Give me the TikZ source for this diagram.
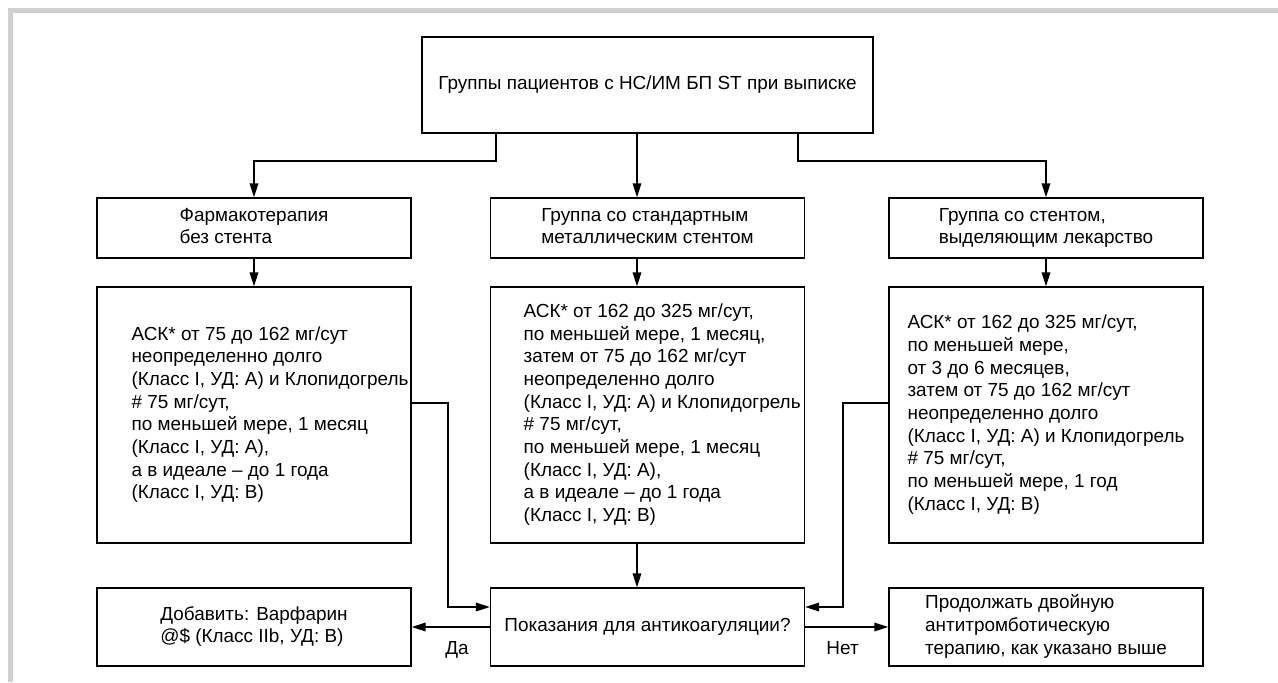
\documentclass[tikz,border=0pt]{standalone}
\usepackage{fontspec}
\setmainfont{Liberation Sans}
\usetikzlibrary{arrows.meta}
\newcommand{\txtblk}[1]{\begin{tabular}{@{}l@{}}#1\end{tabular}}
\definecolor{framegray}{RGB}{208,208,208}
\tikzset{
  box/.style={draw=black, line width=1.1pt, rectangle, inner sep=0pt, align=left,
              font=\fontsize{14.2}{17}\selectfont},
  colbox/.style={box, minimum width=235.5pt},
  conn/.style={line width=1.1pt, -{Triangle[length=10.5pt,width=6.5pt]}},
  lbl/.style={font=\fontsize{14.2}{17}\selectfont, inner sep=1pt},
}
\begin{document}
\begin{tikzpicture}[x=0.75pt, y=-0.75pt]
  \useasboundingbox (0,0) rectangle (1278,682);
  % light grey frame on the top and left sides
  \fill[framegray] (8,8) rectangle (1278,13);
  \fill[framegray] (8,8) rectangle (13,682);

  % top box
  \node[box, minimum width=338.25pt, minimum height=72pt] (top) at (647.5,85)
    {Группы пациентов с НС/ИМ БП ST при выписке};

  % second row: patient groups
  \node[colbox, minimum height=45pt] (g1) at (254,228)
    {\txtblk{Фармакотерапия\\без стента}};
  \node[colbox, minimum height=45pt] (g2) at (647.5,228)
    {\txtblk{Группа со стандартным\\металлическим стентом}};
  \node[colbox, minimum height=45pt] (g3) at (1046,228)
    {\txtblk{Группа со стентом,\\выделяющим лекарство}};

  % third row: regimens
  \node[colbox, minimum height=192pt] (r1) at (254,415)
    {\hspace*{24pt}\txtblk{АСК* от 75 до 162 мг/сут\\
      неопределенно долго\\
      (Класс I, УД: А) и Клопидогрель\\
      \# 75 мг/сут,\\
      по меньшей мере, 1 месяц\\
      (Класс I, УД: А),\\
      а в идеале – до 1 года\\
      (Класс I, УД: В)}};
  \node[colbox, minimum height=192pt] (r2) at (647.5,415)
    {\hspace*{22pt}\txtblk{АСК* от 162 до 325 мг/сут,\\
      по меньшей мере, 1 месяц,\\
      затем от 75 до 162 мг/сут\\
      неопределенно долго\\
      (Класс I, УД: А) и Клопидогрель\\
      \# 75 мг/сут,\\
      по меньшей мере, 1 месяц\\
      (Класс I, УД: А),\\
      а в идеале – до 1 года\\
      (Класс I, УД: В)}};
  \node[colbox, minimum height=192pt] (r3) at (1046,415)
    {\txtblk{АСК* от 162 до 325 мг/сут,\\
      по меньшей мере,\\
      от 3 до 6 месяцев,\\
      затем от 75 до 162 мг/сут\\
      неопределенно долго\\
      (Класс I, УД: А) и Клопидогрель\\
      \# 75 мг/сут,\\
      по меньшей мере, 1 год\\
      (Класс I, УД: В)}};

  % bottom row: decision
  \node[colbox, minimum height=58.5pt] (add) at (254,627)
    {\txtblk{Добавить: Варфарин\\@\$ (Класс IIb, УД: В)}};
  \node[colbox, minimum height=58.5pt] (dec) at (647.5,627)
    {Показания для антикоагуляции?};
  \node[colbox, minimum height=58.5pt] (cont) at (1046,627)
    {\txtblk{Продолжать двойную\\антитромботическую\\терапию, как указано выше}};

  % routing points
  \coordinate (jl) at (496,161);
  \coordinate (jr) at (798,161);
  \coordinate (ax) at (637,0);
  \coordinate (fl) at (448,403);
  \coordinate (fr) at (843,403);
  \coordinate (el) at (448,607);
  \coordinate (er) at (843,607);

  % connectors
  \draw[conn] (top.south -| jl) -- (jl) -| (g1.north);
  \draw[conn] (top.south -| jr) -- (jr) -| (g3.north);
  \draw[conn] (top.south -| ax) -- (g2.north -| ax);
  \draw[conn] (g1) -- (r1);
  \draw[conn] (g2.south -| ax) -- (r2.north -| ax);
  \draw[conn] (g3) -- (r3);
  \draw[conn] (r2.south -| ax) -- (dec.north -| ax);
  \draw[conn] (r1.east |- fl) -- (fl) -- (el) -- (dec.west |- el);
  \draw[conn] (r3.west |- fr) -- (fr) -- (er) -- (dec.east |- er);
  \draw[conn] (dec.west) -- node[lbl, below=9pt, pos=0.42] {Да} (add.east);
  \draw[conn] (dec.east) -- node[lbl, below=9pt, pos=0.45] {Нет} (cont.west);
\end{tikzpicture}
\end{document}
